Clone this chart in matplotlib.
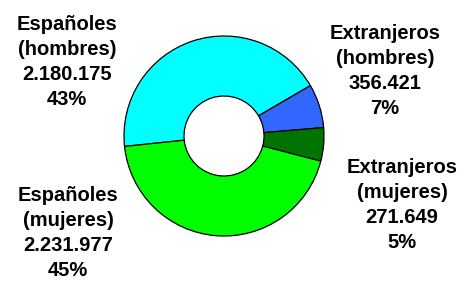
import matplotlib
matplotlib.use("Agg")
from matplotlib import pyplot as plt

# data
names = ["Españoles\n(hombres)", "Extranjeros\n(hombres)", "Extranjeros\n(mujeres)", "Españoles\n(mujeres)"]
values = [2180175, 356421, 271649, 2231977]
pcts = ["43%", "7%", "5%", "45%"]
colors = ["#00FFFF", "#3366FF", "#007300", "#00FF00"]

# label centres in pixel coords (x, y from top)
label_pos = [(67, 62), (385, 71), (402, 205), (68, 233)]

W, H = 468, 286
fig = plt.figure(figsize=(W / 100, H / 100), dpi=100)
ax = fig.add_axes([0, 0, 1, 1])

ax.pie(values, colors=colors, center=(224, 150), radius=100,
       startangle=186, counterclock=False,
       wedgeprops=dict(width=60, edgecolor="black", linewidth=0.9))

ax.set_xlim(0, W)
ax.set_ylim(0, H)
ax.set_aspect("equal")
ax.axis("off")

for name, v, p, (x, y) in zip(names, values, pcts, label_pos):
    txt = name + "\n" + f"{v:,}".replace(",", ".") + "\n" + p
    ax.text(x, H - y, txt, ha="center", va="center", multialignment="center",
            fontsize=14.5, fontweight="bold", family="Liberation Sans",
            linespacing=1.38)

plt.savefig("out.png", dpi=100)
